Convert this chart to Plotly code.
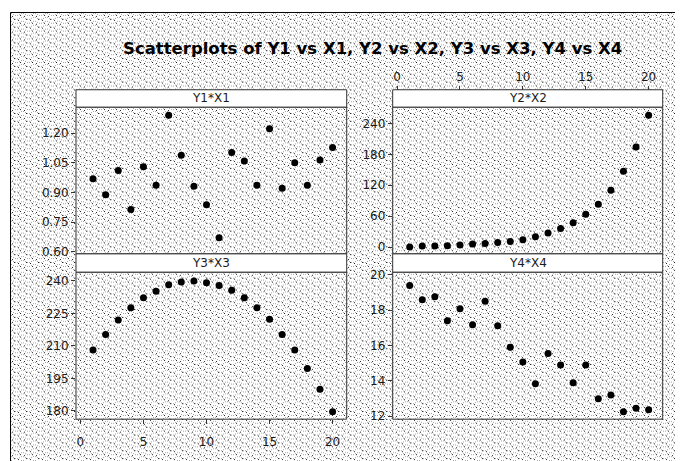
import base64
import plotly.graph_objects as go

# ---------------- data ----------------
x_vals = list(range(1, 21))
y1 = [0.970, 0.889, 1.011, 0.815, 1.031, 0.937, 1.291, 1.089, 0.932, 0.838,
      0.671, 1.103, 1.060, 0.937, 1.222, 0.922, 1.051, 0.937, 1.065, 1.128]
y2 = [0.0, 1.9, 2.0, 2.5, 3.8, 5.7, 7.0, 9.0, 10.9, 14.0,
      19.8, 27.4, 36.2, 47.0, 63.6, 83.2, 110.5, 147.4, 194.3, 256.0]
y3 = [208.1, 215.3, 222.0, 227.6, 232.3, 235.3, 238.3, 239.5, 240.0, 239.2,
      237.9, 235.7, 232.3, 227.6, 222.3, 215.3, 208.1, 199.5, 190.0, 179.5]
y4 = [19.39, 18.59, 18.76, 17.39, 18.07, 17.17, 18.50, 17.11, 15.89, 15.06,
      13.83, 15.54, 14.89, 13.89, 14.89, 12.98, 13.19, 12.24, 12.44, 12.35]

panel_titles = ["Y1*X1", "Y2*X2", "Y3*X3", "Y4*X4"]
x_ticks = [0, 5, 10, 15, 20]
y1_ticks = [0.60, 0.75, 0.90, 1.05, 1.20]
y2_ticks = [0, 60, 120, 180, 240]
y3_ticks = [180, 195, 210, 225, 240]
y4_ticks = [12, 14, 16, 18, 20]
title_text = "Scatterplots of Y1 vs X1, Y2 vs X2, Y3 vs X3, Y4 vs X4"

# ---------------- layout geometry (screen pixels) ----------------
W, H = 683, 461
OFF = 8  # page body margin offsets the figure by 8px
def px(x):
    return (x - OFF) / W
def py(y):
    return 1 - (y - OFF) / H

colL = [px(76), px(346.7)]
colR = [px(392.7), px(662.7)]
rowT = [py(254.7), py(105)]
rowB = [py(423.3), py(273.3)]
stripT = [py(105), py(87.3)]
stripB = [py(273.3), py(254.7)]

FONT = "DejaVu Sans"
TXT = "#1a1a1a"

fig = go.Figure()
marker = dict(color="black", size=7)
fig.add_trace(go.Scatter(x=x_vals, y=y1, mode="markers", marker=marker, xaxis="x", yaxis="y"))
fig.add_trace(go.Scatter(x=x_vals, y=y2, mode="markers", marker=marker, xaxis="x2", yaxis="y2"))
fig.add_trace(go.Scatter(x=x_vals, y=y3, mode="markers", marker=marker, xaxis="x3", yaxis="y3"))
fig.add_trace(go.Scatter(x=x_vals, y=y4, mode="markers", marker=marker, xaxis="x4", yaxis="y4"))

xr = [-0.35, 21.12]
tickfont = dict(family=FONT, size=12, color=TXT)
hidden_x = dict(range=xr, showticklabels=False, ticks="", showgrid=False, zeroline=False, showline=False)

def yax(dom, anchor, rng, ticks, fmt):
    return dict(domain=dom, anchor=anchor, range=rng, tickvals=ticks,
                ticktext=[fmt.format(t) for t in ticks], ticks="outside", ticklen=4,
                tickcolor="#333", tickfont=tickfont, showgrid=False, zeroline=False,
                showline=False)

fig.update_layout(
    width=W, height=H, margin=dict(l=0, r=0, t=0, b=0),
    paper_bgcolor="white", plot_bgcolor="white", showlegend=False,
    xaxis=dict(domain=colL, anchor="y", **hidden_x),
    xaxis2=dict(domain=colR, anchor="free", position=stripT[1], side="top",
                range=xr, tickvals=x_ticks, ticks="outside", ticklen=4, tickcolor="#333",
                tickfont=tickfont, showgrid=False, zeroline=False, showline=False),
    xaxis3=dict(domain=colL, anchor="y3", range=xr, tickvals=x_ticks, ticks="outside",
                ticklen=4, tickcolor="#333", tickfont=tickfont, showgrid=False,
                zeroline=False, showline=False, ticklabelstandoff=7),
    xaxis4=dict(domain=colR, anchor="y4", **hidden_x),
    yaxis=yax(rowT, "x", [0.590, 1.332], y1_ticks, "{:.2f}"),
    yaxis2=yax(rowT, "x2", [-13.3, 271.8], y2_ticks, "{:g}"),
    yaxis3=yax(rowB, "x3", [176.1, 244.1], y3_ticks, "{:g}"),
    yaxis4=yax(rowB, "x4", [11.82, 20.15], y4_ticks, "{:g}"),
)

# background texture (pattern tile drawn as svg): wavy rows of grey dots with sparse black dots
TW, TH = 12, 8
tile = (f'<pattern id="p" width="{TW}" height="{TH}" patternUnits="userSpaceOnUse">'
        f'<rect width="{TW}" height="{TH}" fill="#ffffff"/>')
wave = [0, 0, 1, 1, 2, 2, 2, 1, 1, 0, 0, 0]
for row in (0, 4):
    for xx in range(0, TW, 2):
        yy = (row + wave[xx]) % TH
        tile += f'<rect x="{xx}" y="{yy}" width="1" height="1" fill="#a4a4a4"/>'
for (a, b) in [(3, 6), (9, 2), (7, 7), (1, 3)]:
    tile += f'<rect x="{a}" y="{b}" width="1" height="1" fill="#222222"/>'
tile += '</pattern>'
x_start, y_start = 11, 9
bw, bh = W + OFF - x_start, H + OFF - y_start
svg = (f'<svg xmlns="http://www.w3.org/2000/svg" width="{bw}" height="{bh}" '
       f'viewBox="0 0 {bw} {bh}" shape-rendering="crispEdges"><defs>{tile}</defs>'
       f'<rect width="{bw}" height="{bh}" fill="url(#p)"/></svg>')
uri = "data:image/svg+xml;base64," + base64.b64encode(svg.encode()).decode()
fig.add_layout_image(dict(source=uri, xref="paper", yref="paper", x=px(x_start), y=py(y_start),
                          sizex=bw / W, sizey=bh / H, sizing="stretch",
                          xanchor="left", yanchor="top", layer="below"))

# frame lines (left and top)
fig.add_shape(type="line", xref="paper", yref="paper", x0=px(10.5), x1=px(10.5),
              y0=py(470), y1=py(8.5), line=dict(color="black", width=1))
fig.add_shape(type="line", xref="paper", yref="paper", x0=px(10.5), x1=px(690),
              y0=py(8.5), y1=py(8.5), line=dict(color="black", width=1))

# panel borders and strips
panels = [(colL, rowT, stripT), (colR, rowT, stripT), (colL, rowB, stripB), (colR, rowB, stripB)]
for (cx, ry, sy), name in zip(panels, panel_titles):
    fig.add_shape(type="rect", xref="paper", yref="paper", x0=cx[0], x1=cx[1],
                  y0=ry[0], y1=ry[1], line=dict(color="#333", width=1), layer="above")
    fig.add_shape(type="rect", xref="paper", yref="paper", x0=cx[0], x1=cx[1],
                  y0=sy[0], y1=sy[1], line=dict(color="#333", width=1),
                  fillcolor="white", layer="above")
    fig.add_annotation(text=name, xref="paper", yref="paper", x=(cx[0] + cx[1]) / 2,
                       y=(sy[0] + sy[1]) / 2, showarrow=False, xanchor="center",
                       yanchor="middle", font=dict(family=FONT, size=12, color=TXT))

fig.add_annotation(text="<b>" + title_text + "</b>", xref="paper", yref="paper",
                   x=px(372), y=py(45), showarrow=False, xanchor="center", yanchor="middle",
                   font=dict(family=FONT, size=16.5, color="black"))

fig.write_html("out.html")
